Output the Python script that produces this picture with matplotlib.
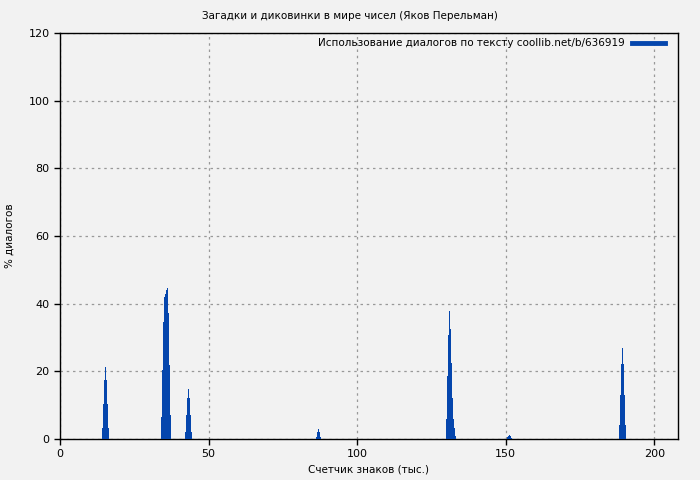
import matplotlib
matplotlib.use("Agg")
import matplotlib.pyplot as plt
from matplotlib.lines import Line2D

title = "Загадки и диковинки в мире чисел (Яков Перельман)"
legend_label = "Использование диалогов по тексту coollib.net/b/636919"
bar_color = "#0546ad"

# positions (thousand chars) and share of dialogue (%)
x_pos = [
    14.3, 14.6, 14.9, 15.3, 15.6, 15.9, 16.3,
    34.2, 34.5, 34.8, 35.2, 35.5, 35.8, 36.2, 36.5, 36.8, 37.2,
    42.3, 42.6, 42.9, 43.3, 43.6, 43.9, 44.3,
    86.4, 86.7, 87.0, 87.4, 87.7,
    130.2, 130.5, 130.8, 131.2, 131.5, 131.8, 132.2, 132.5, 132.8, 133.2,
    150.7, 151.0, 151.3, 151.7, 152.0,
    188.4, 188.7, 189.1, 189.4, 189.7, 190.1, 190.4,
]
dialog_pct = [
    3.3, 10.3, 17.4, 21.3, 17.4, 10.3, 3.3,
    6.6, 20.4, 34.7, 42.0, 43.0, 44.0, 44.6, 37.2, 22.0, 7.0,
    2.1, 7.1, 12.1, 14.8, 12.1, 7.1, 2.1,
    0.6, 2.2, 3.0, 2.2, 0.6,
    5.9, 18.6, 30.7, 37.8, 32.5, 22.6, 12.1, 5.9, 3.2, 1.0,
    0.5, 1.0, 1.2, 0.8, 0.3,
    4.1, 13.0, 22.2, 26.9, 22.2, 13.0, 4.1,
]
bin_width = 0.37

fig = plt.figure(figsize=(7, 4.8), dpi=100, facecolor="#f2f2f2")
ax = fig.add_axes([60 / 700, 1 - 439 / 480, 618 / 700, 406 / 480])
ax.set_facecolor("#f2f2f2")

ax.bar(x_pos, dialog_pct, width=bin_width, color=bar_color, linewidth=0,
       antialiased=False, zorder=3)

ax.set_xlim(0, 208)
ax.set_ylim(0, 120)
ax.set_xticks([0, 50, 100, 150, 200])
ax.set_yticks([0, 20, 40, 60, 80, 100, 120])
ax.tick_params(labelsize=8, length=4, width=1, direction="out")
ax.grid(True, linestyle=(0, (2, 3)), color="#999999", linewidth=0.9)
for s in ax.spines.values():
    s.set_linewidth(1)
    s.set_color("black")

ax.set_xlabel("Счетчик знаков (тыс.)", fontsize=7.5, labelpad=4)
ax.set_ylabel("% диалогов", fontsize=7.5, labelpad=10)
fig.text(0.5, 1 - 16 / 480, title, ha="center", va="center", fontsize=7.5)

handle = Line2D([], [], color=bar_color, linewidth=3.5)
ax.legend([handle], [legend_label], loc="upper right", frameon=False,
          markerfirst=False, fontsize=7.5, handlelength=3.2,
          borderaxespad=0, borderpad=0.3, handletextpad=0.7,
          bbox_to_anchor=(0.984, 0.995))

fig.savefig("out.png", dpi=100, facecolor=fig.get_facecolor())
